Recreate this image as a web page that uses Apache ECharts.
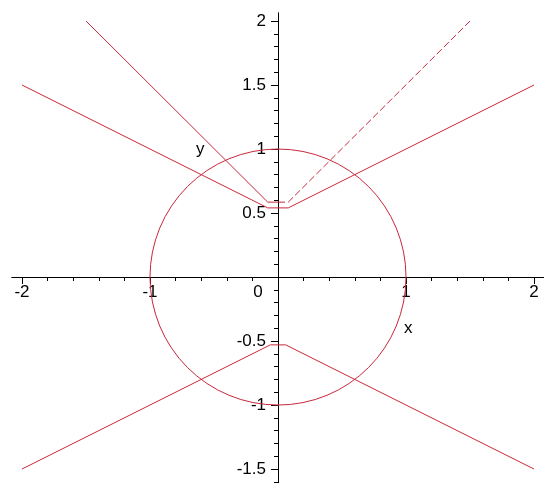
<!DOCTYPE html>
<html>
<head>
<meta charset="utf-8">
<script src="https://cdn.jsdelivr.net/npm/echarts@6/dist/echarts.min.js"></script>
<style>
  html, body { margin: 0; padding: 0; background: #fff; }
  #chart { width: 544px; height: 483px; }
</style>
</head>
<body>
<div id="chart"></div>
<script>
// tick values
var xMajor = [-2, -1, 0, 1, 2];
var xMinor = [-2, -1.8, -1.6, -1.4, -1.2, -1, -0.8, -0.6, -0.4, -0.2, 0, 0.2, 0.4, 0.6, 0.8, 1, 1.2, 1.4, 1.6, 1.8, 2];
var yMajor = [-1.5, -1, -0.5, 0, 0.5, 1, 1.5, 2];
var yMinor = [-1.6, -1.5, -1.4, -1.3, -1.2, -1.1, -1, -0.9, -0.8, -0.7, -0.6, -0.5, -0.4, -0.3, -0.2, -0.1, 0,
  0.1, 0.2, 0.3, 0.4, 0.5, 0.6, 0.7, 0.8, 0.9, 1, 1.1, 1.2, 1.3, 1.4, 1.5, 1.6, 1.7, 1.8, 1.9, 2];
var xLabels = [-2, -1, 0, 1, 2];
var yLabels = [-1.5, -1, -0.5, 0.5, 1, 1.5, 2];

// curves
var steepLeft = [[-1.5, 2], [-0.08, 0.585], [0, 0.585]];
var steepRight = [[0, 0.585], [0.08, 0.585], [1.5, 2]];
var shallowUp = [[-2, 1.5], [-0.08, 0.54], [0.08, 0.54], [2, 1.5]];
var shallowDown = [[-2, -1.5], [-0.06, -0.53], [0.06, -0.53], [2, -1.5]];
var circle = [[0, 0, 1]]; // centre x, centre y, radius

var RED = "#c8283c";
var FONT = "Liberation Sans";

var chart = echarts.init(document.getElementById("chart"));

function lineSeries(data, dashed) {
  return {
    type: "line",
    data: data,
    symbol: "none",
    silent: true,
    lineStyle: { color: RED, width: 1, type: dashed ? [7, 3] : "solid" }
  };
}

// v6 keeps the labels at the grid edge, so pull them back to the zero line
function xAxis(ticks, len, labels) {
  return {
    type: "value",
    position: "bottom",
    min: -2.078,
    max: 2.078,
    axisLine: { onZero: true, onZeroAxisIndex: 0, lineStyle: { color: "#000", width: 1 } },
    axisTick: { customValues: ticks, length: len, lineStyle: { color: "#000", width: 1 } },
    axisLabel: labels ? {
      customValues: labels,
      margin: -199,
      color: "#000",
      fontFamily: FONT,
      fontSize: 17,
      formatter: function (v) {
        return v === 0 ? "{z|0}" : String(v);
      },
      rich: { z: { fontFamily: FONT, fontSize: 17, color: "#000", padding: [0, 40, 0, 0] } }
    } : { show: false },
    splitLine: { show: false }
  };
}

function yAxis(ticks, len, labels) {
  return {
    type: "value",
    position: "left",
    min: -1.609,
    max: 2.0625,
    axisLine: { onZero: true, onZeroAxisIndex: 0, lineStyle: { color: "#000", width: 1 } },
    axisTick: { customValues: ticks, length: len, lineStyle: { color: "#000", width: 1 } },
    axisLabel: labels ? {
      customValues: labels,
      margin: -254,
      color: "#000",
      fontFamily: FONT,
      fontSize: 17,
      formatter: function (v) { return String(v); }
    } : { show: false },
    splitLine: { show: false }
  };
}

var option = {
  animation: false,
  backgroundColor: "#fff",
  color: [RED],
  grid: { left: 12, right: 0, top: 13, bottom: 0, outerBoundsMode: "none" },
  xAxis: [xAxis(xMajor, 7, xLabels), xAxis(xMinor, 4, null)],
  yAxis: [yAxis(yMajor, 7, yLabels), yAxis(yMinor, 4, null)],
  graphic: [
    { type: "text", left: 196, top: 141, style: { text: "y", font: "17px " + FONT, fill: "#000" } },
    { type: "text", left: 404, top: 320, style: { text: "x", font: "17px " + FONT, fill: "#000" } }
  ],
  series: [
    lineSeries(steepLeft, false),
    lineSeries(steepRight, true),
    lineSeries(shallowUp, false),
    lineSeries(shallowDown, false),
    {
      type: "custom",
      data: circle,
      silent: true,
      renderItem: function (params, api) {
        var c = api.coord([api.value(0), api.value(1)]);
        var s = api.size([api.value(2), api.value(2)]);
        return {
          type: "circle",
          shape: { cx: c[0], cy: c[1], r: (s[0] + s[1]) / 2 },
          style: { fill: "none", stroke: RED, lineWidth: 1 }
        };
      }
    }
  ]
};

chart.setOption(option);
</script>
</body>
</html>
